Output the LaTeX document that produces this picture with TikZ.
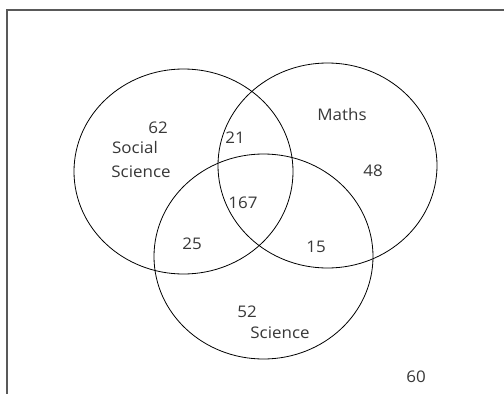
\documentclass[tikz,border=0pt]{standalone}
\usepackage{fontspec}
\setmainfont{Open Sans}
\begin{document}
\begin{tikzpicture}[x=1pt,y=-1pt,
  setc/.style={draw=black, line width=0.8pt},
  lbl/.style={text=black!78, font=\fontsize{16}{18}\selectfont, inner sep=0pt, xscale=1.06, transform shape},
  frameline/.style={draw=black!65, line width=2pt}]
\useasboundingbox (0,0) rectangle (504,394);
\fill[white] (0,0) rectangle (504,394);
\coordinate (tl) at (7,10);
\coordinate (tr) at (504,10);
\coordinate (bl) at (7,394);
\draw[frameline] (tr) -- (tl) -- (bl);
\draw[setc] (183.5,171.5) ellipse [x radius=109.5, y radius=102.5];
\draw[setc] (327.5,165.5) ellipse [x radius=109.5, y radius=102.5];
\draw[setc] (263.5,256.5) ellipse [x radius=109.5, y radius=102.5];
\node[lbl] (n62) at (158,128) {62};
\node[lbl] (social) at (135,147) {Social};
\node[lbl] (ssci) at (141,172) {Science};
\node[lbl] (n21) at (235,138) {21};
\node[lbl] (maths) at (342,114) {Maths};
\node[lbl] (n48) at (373,171) {48};
\node[lbl] (n167) at (243,203) {167};
\node[lbl] (n25) at (192,244) {25};
\node[lbl] (n15) at (316,247) {15};
\node[lbl] (n52) at (247,312) {52};
\node[lbl] (sci) at (280,333) {Science};
\node[lbl] (n60) at (416,377) {60};
\end{tikzpicture}
\end{document}
